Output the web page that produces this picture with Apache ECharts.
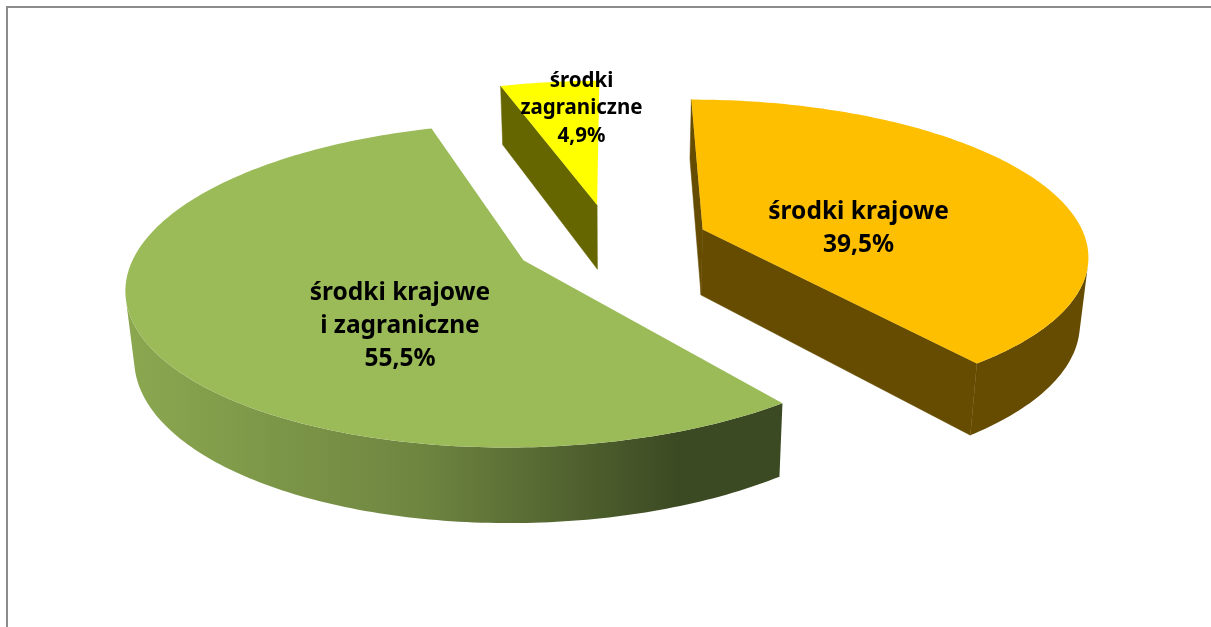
<!DOCTYPE html>
<html>
<head>
<meta charset="utf-8">
<style>
html, body { margin: 0; padding: 0; background: #fff; }
#chart { width: 1211px; height: 627px; }
</style>
<script src="https://cdn.jsdelivr.net/npm/echarts@6/dist/echarts.min.js"></script>
</head>
<body>
<div id="chart"></div>
<script>
// dane
var categories = ['środki krajowe', 'środki krajowe\ni zagraniczne', 'środki\nzagraniczne'];
var values = [39.5, 55.5, 4.9];

// kolory
var topColors = ['#fdbf00', '#9bbb59', '#ffff00'];
var sideColors = ['#664c00', null, '#666600'];

// rzut perspektywiczny
var vanishX = 615, centerX = -3.6, centerY = 242;
var radiusX = 384, radiusY = 153, persp = 0.15;
var explode = 0.254, depth = 66, bottomScale = 0.982;

// polozenie etykiet wzgledem wierzcholka wycinka (w jednostkach promienia)
var labelOffset = [[0.412, -0.01], [-0.283, 0.39], [-0.052, -0.753]];
var labelFont = [24.5, 24.5, 20.5];
var labelLine = [33, 33, 27.5];

var total = values.reduce(function (a, b) { return a + b; }, 0);

function project(u, v, bottom) {
	var w = 1 / (1 - persp * v);
	var b = bottom ? bottomScale : 1;
	var X = centerX + radiusX * u;
	return [
		vanishX + X * w * b,
		centerY + radiusY * v * w * b + (bottom ? depth * w : 0)
	];
}

function area(pts) {
	var s = 0;
	for (var i = 0; i < pts.length; i++) {
		var p = pts[i], q = pts[(i + 1) % pts.length];
		s += p[0] * q[1] - q[0] * p[1];
	}
	return s;
}

function greenWall() {
	return new echarts.graphic.LinearGradient(0, 0, 1, 0, [
		{ offset: 0, color: '#8ba850' },
		{ offset: 0.45, color: '#6e8540' },
		{ offset: 0.84, color: '#3c4a23' },
		{ offset: 1, color: '#3c4a23' }
	]);
}

function renderSlice(params, api) {
	var idx = api.value(0);
	var before = 0;
	for (var i = 0; i < idx; i++) before += values[i];
	var a0 = before / total * Math.PI * 2;
	var a1 = (before + values[idx]) / total * Math.PI * 2;
	var mid = (a0 + a1) / 2;
	// wierzcholek wycinka po odsunieciu
	var cu = Math.sin(mid) * explode;
	var cv = -Math.cos(mid) * explode;

	var steps = Math.max(12, Math.round((a1 - a0) * 60));
	var topArc = [], botArc = [];
	for (var s = 0; s <= steps; s++) {
		var a = a0 + (a1 - a0) * s / steps;
		var u = cu + Math.sin(a), v = cv - Math.cos(a);
		topArc.push(project(u, v, false));
		botArc.push(project(u, v, true));
	}
	var apexTop = project(cu, cv, false);
	var apexBot = project(cu, cv, true);
	var sideFill = sideColors[idx] || greenWall();
	var children = [];

	function wall(pts) {
		if (area(pts) < -400) {
			children.push({ type: 'polygon', shape: { points: pts }, style: { fill: sideFill, stroke: sideFill, lineWidth: 0.5 } });
		}
	}
	// sciany ciecia
	wall([apexTop, topArc[0], botArc[0], apexBot]);
	wall([topArc[steps], apexTop, apexBot, botArc[steps]]);

	// sciana zewnetrzna - tylko widoczny fragment
	var from = -1, to = -1;
	for (var k = 0; k < steps; k++) {
		if (area([topArc[k], topArc[k + 1], botArc[k + 1], botArc[k]]) < 0) {
			if (from < 0) from = k;
			to = k + 1;
		}
	}
	if (from >= 0) {
		var outer = topArc.slice(from, to + 1).concat(botArc.slice(from, to + 1).reverse());
		children.push({ type: 'polygon', shape: { points: outer }, style: { fill: sideFill } });
	}

	// wierzch
	children.push({
		type: 'polygon',
		shape: { points: [apexTop].concat(topArc) },
		style: { fill: topColors[idx] }
	});

	// etykieta
	var pos = project(cu + labelOffset[idx][0], cv + labelOffset[idx][1], false);
	children.push({
		type: 'text',
		z2: 10,
		style: {
			text: categories[idx] + '\n' + String(values[idx]).replace('.', ',') + '%',
			x: pos[0],
			y: pos[1],
			align: 'center',
			verticalAlign: 'middle',
			fontFamily: 'Noto Sans',
			fontWeight: 'bold',
			fontSize: labelFont[idx],
			lineHeight: labelLine[idx],
			fill: '#000'
		}
	});
	return { type: 'group', children: children };
}

var myChart = echarts.init(document.getElementById('chart'));
myChart.setOption({
	animation: false,
	backgroundColor: '#fff',
	graphic: [
		{ type: 'rect', shape: { x: 6, y: 6, width: 1205, height: 2 }, style: { fill: '#8c8c8c' } },
		{ type: 'rect', shape: { x: 6, y: 6, width: 2, height: 621 }, style: { fill: '#8c8c8c' } }
	],
	series: [{
		type: 'custom',
		coordinateSystem: 'none',
		renderItem: renderSlice,
		data: [[0], [1], [2]]
	}]
});
</script>
</body>
</html>
